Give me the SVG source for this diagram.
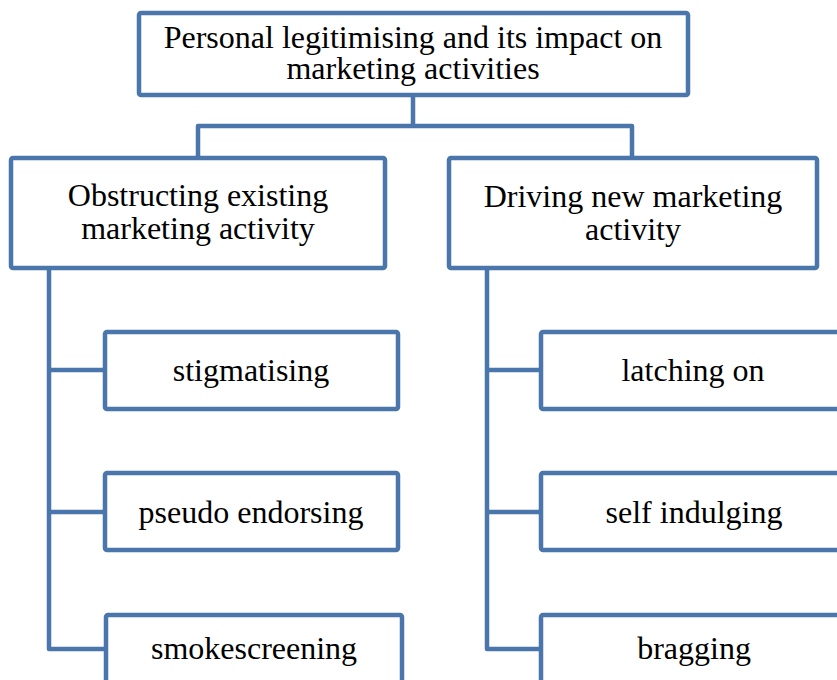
<svg xmlns="http://www.w3.org/2000/svg" width="837" height="680" viewBox="0 0 837 680">
<style>
.box{fill:#fff;stroke:#4A76AC;stroke-width:4.5;stroke-linejoin:round}
.con{fill:none;stroke:#4A76AC;stroke-width:4.5;stroke-linejoin:round}
text{font-family:"Liberation Serif","Times New Roman",serif;font-size:32px;fill:#000;text-anchor:middle}
</style>
<rect width="837" height="680" fill="#fff"/>
<g id="connectors">
<path class="con" d="M413 95V126M198 157V126H632V157"/>
<path class="con" d="M49 268V649H105M49 370H105M49 512H105"/>
<path class="con" d="M487 268V649H541M487 370H541M487 512H541"/>
</g>
<g id="root">
<rect class="box" x="139" y="13" width="549" height="82" rx="2"/>
<text x="413" y="48">Personal legitimising and its impact on</text>
<text x="413" y="79">marketing activities</text>
</g>
<g id="obstructing">
<rect class="box" x="11" y="158" width="374" height="110" rx="2"/>
<text x="198" y="206">Obstructing existing</text>
<text x="198" y="239">marketing activity</text>
</g>
<g id="driving">
<rect class="box" x="449" y="158" width="368" height="110" rx="2"/>
<text x="633" y="207">Driving new marketing</text>
<text x="633" y="240">activity</text>
</g>
<g id="stigmatising">
<rect class="box" x="105" y="332" width="293" height="77" rx="2"/>
<text x="251" y="381">stigmatising</text>
</g>
<g id="pseudo-endorsing">
<rect class="box" x="105" y="473" width="293" height="77" rx="2"/>
<text x="251" y="523">pseudo endorsing</text>
</g>
<g id="smokescreening">
<rect class="box" x="106" y="615" width="296" height="80" rx="2"/>
<text x="254" y="659">smokescreening</text>
</g>
<g id="latching-on">
<rect class="box" x="541" y="332" width="305" height="77" rx="2"/>
<text x="693" y="381">latching on</text>
</g>
<g id="self-indulging">
<rect class="box" x="541" y="473" width="305" height="77" rx="2"/>
<text x="694" y="523">self indulging</text>
</g>
<g id="bragging">
<rect class="box" x="541" y="615" width="305" height="80" rx="2"/>
<text x="694" y="659">bragging</text>
</g>
</svg>
